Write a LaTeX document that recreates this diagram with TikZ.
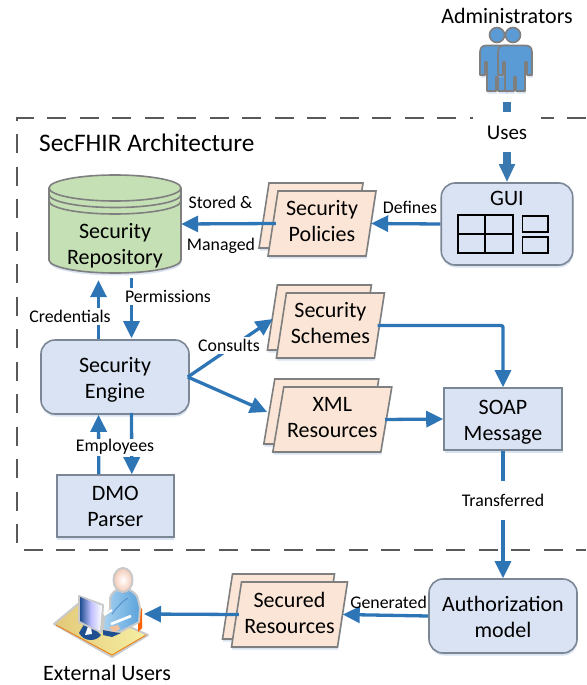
\documentclass[tikz,border=0pt]{standalone}
\usepackage{fontspec}
\setmainfont{Carlito}
\usetikzlibrary{arrows.meta,shadows,calc}
\definecolor{flow}{HTML}{2E75B6}
\definecolor{flowdark}{HTML}{3A78B0}
\definecolor{edgegray}{HTML}{7F7F7F}
\definecolor{bluegray}{HTML}{7C8796}
\definecolor{boxblue}{HTML}{DAE3F3}
\definecolor{peach}{HTML}{FBE5D6}
\definecolor{leaf}{HTML}{C5E0B4}
\definecolor{people}{HTML}{5B9BD5}
\definecolor{shadowblue}{HTML}{9DB7DC}
\definecolor{desktan}{HTML}{E3C878}
\definecolor{deskpale}{HTML}{F6F0A4}
\definecolor{glow}{HTML}{C9C9C9}
\definecolor{navy}{HTML}{1F4E91}
\definecolor{shirt}{HTML}{A9D2F0}
\definecolor{shirtdark}{HTML}{5BA3DC}
\definecolor{skin}{HTML}{F3C9B5}
\tikzset{
  softshadow/.style={drop shadow={shadow xshift=0.5pt,shadow yshift=-2.5pt,fill=shadowblue,opacity=.4}},
  bigtext/.style={font=\fontsize{22}{26}\selectfont,align=center,text=black,inner sep=0pt},
  smalltext/.style={font=\fontsize{17.8}{20}\selectfont,text=black},
  boxbase/.style={draw=bluegray,line width=1.6pt,fill=boxblue,inner sep=0pt,softshadow},
  roundbox/.style={boxbase,rounded corners=14pt},
  squarebox/.style={boxbase},
  docface/.style={draw=edgegray,line width=1.6pt,fill=peach,line join=miter},
  flowline/.style={draw=flow,line width=3.3pt},
  flowarrow/.style={flowline,-{Triangle[length=17pt,width=16pt]}},
  usesline/.style={draw=flowdark,line width=8pt},
  gap/.style={fill=white,inner sep=0pt,smalltext},
  grid/.style={draw=black,line width=1.6pt},
  personstyle/.style={draw=edgegray,line width=1.6pt,fill=people,line join=round}
}
\newcommand{\docstack}[7]{% name, cx, cy, width, slant, text y, text
  \path[docface,softshadow]
    ({#2-#4/2+#5-9},{#3-40.5}) -- ({#2+#4/2+#5-13},{#3-40.5}) --
    ({#2+#4/2-#5-13},{#3+24.5}) -- ({#2-#4/2-#5-9},{#3+24.5}) -- cycle;
  \path[docface,softshadow]
    ({#2-#4/2+#5},{#3-32.5}) -- ({#2+#4/2+#5},{#3-32.5}) --
    ({#2+#4/2-#5},{#3+32.5}) -- ({#2-#4/2-#5},{#3+32.5}) -- cycle;
  \node[inner sep=0pt,minimum width=#4 pt,minimum height=65pt] (#1) at (#2,#3) {};
  \node[bigtext] (#1text) at (#2,#6) {#7};
}
\newcommand{\personicon}[1]{% cx
  \path[personstyle,softshadow]
    ({#1-11},45.5) .. controls ({#1-15},45.5) and ({#1-17},48) .. ({#1-17},52)
    -- ({#1-17},75) -- ({#1-12},75) -- ({#1-12},62) -- ({#1-10},62) -- ({#1-10},91)
    -- ({#1-1},91) -- ({#1-1},77) -- ({#1+1},77) -- ({#1+1},91) -- ({#1+10},91)
    -- ({#1+10},62) -- ({#1+12},62) -- ({#1+12},75) -- ({#1+17},75) -- ({#1+17},52)
    .. controls ({#1+17},48) and ({#1+15},45.5) .. ({#1+11},45.5) -- cycle;
}
\begin{document}
\begin{tikzpicture}[x=1pt,y=-1pt]
\useasboundingbox (0,0) rectangle (586,685);

% dashed frame
\coordinate (frameA) at (586,118);
\coordinate (frameB) at (17,118);
\coordinate (frameC) at (17,550);
\coordinate (frameD) at (586,550);
\draw[draw=black!65,line width=2pt,dash pattern=on 19pt off 13.5pt]
  (frameA) -- (frameB) -- (frameC) -- (frameD);
\node[anchor=west,inner sep=0pt,font=\fontsize{25.3}{28}\selectfont] (title) at (39,143) {SecFHIR Architecture};

% administrators
\personicon{497}
\path[personstyle] (497,35) circle (7.5);
\personicon{515}
\path[personstyle] (513,35) circle (7.5);
\node[bigtext] (admins) at (507,16) {Administrators};
\coordinate (adminfoot) at (507,102);

% repository
\path[draw=edgegray,line width=1.6pt,fill=leaf,softshadow]
  (49,188) -- (49,260) arc[start angle=180,end angle=0,x radius=66,y radius=13]
  -- (181,188) arc[start angle=0,end angle=-180,x radius=66,y radius=13] -- cycle;
\draw[edgegray,line width=1.6pt] (49,188) arc[start angle=180,end angle=0,x radius=66,y radius=13];
\draw[edgegray,line width=1.6pt] (49,194.5) arc[start angle=180,end angle=0,x radius=66,y radius=13];
\draw[edgegray,line width=1.6pt] (49,201) arc[start angle=180,end angle=0,x radius=66,y radius=13];
\node[inner sep=0pt,minimum width=132pt,minimum height=98pt] (repo) at (115,224) {};
\node[bigtext] (repotext) at (115,246) {Security\\Repository};

% documents
\docstack{policies}{322}{223.5}{98}{5}{221.5}{Security\\Policies}
\docstack{schemes}{330.4}{325.5}{98}{5}{323.5}{Security\\Schemes}
\docstack{xml}{332.3}{419.5}{108}{5.5}{418}{XML\\Resources}
\docstack{secured}{289.5}{614.5}{106}{5}{612.5}{Secured\\Resources}

% boxes
\node[roundbox,minimum width=131.5pt,minimum height=82pt] (gui) at (507,224) {};
\node[bigtext] (guitext) at (507,198) {GUI};
\draw[grid] (458,215) rectangle (513,253) (485,215) -- (485,253) (458,234) -- (513,234);
\draw[grid] (522.5,216) rectangle (548,232) (522.5,237) rectangle (548,253);
\node[roundbox,minimum width=148pt,minimum height=74pt] (engine) at (115,377) {};
\node[bigtext] (enginetext) at (115,380) {Security\\Engine};
\node[squarebox,minimum width=117pt,minimum height=62pt] (dmo) at (115.3,506) {};
\node[bigtext] (dmotext) at (115.3,506.5) {DMO\\Parser};
\node[squarebox,minimum width=118pt,minimum height=62pt] (soap) at (503,419) {};
\node[bigtext] (soaptext) at (503,422) {SOAP\\Message};
\node[roundbox,minimum width=148pt,minimum height=74pt] (auth) at (503,616) {};
\node[bigtext] (authtext) at (503,617) {Authorization\\model};

% external users icon
\shade[left color=desktan,right color=deskpale,draw=glow,line width=2pt,line join=round]
  (54,624) -- (78,604) -- (148,635) -- (112,657) -- cycle;
\draw[orange!70!brown,line width=.9pt] (56,625) -- (112,655) -- (146,635);
\fill[orange!75!red] (138,606) -- (142,609) -- (142,628) -- (138,632) -- cycle;
\path[draw=glow,line width=2pt,line join=round,left color=shirt,right color=shirtdark]
  (110,598) .. controls (112,592) and (116,590) .. (118,590) -- (128,589)
  .. controls (134,592) and (137,595) .. (138,599) -- (140,608) -- (139,622) -- (120,632) -- (103,630) -- (104,617) -- (110,610) -- cycle;
\draw[white,line width=2.6pt] (111,624) -- (131,616);
\draw[white,line width=2pt] (104,615) -- (112,610);
\draw[shirtdark!75!navy,line width=.8pt] (112,614) .. controls (118,606) and (124,600) .. (128,598);
\fill[red!70!orange] (118,589) -- (129,589) -- (124,593) -- cycle;
\shade[inner color=white,outer color=skin,draw=glow,line width=2pt]
  (123,580) ellipse (9.5 and 12);
\fill[skin!85!orange] (109,627) -- (118,625) -- (120,629) -- (114,632) -- cycle;
\fill[navy] (103,630) -- (113,632) -- (121,633) -- (112,637) -- (103,635) -- cycle;
\fill[navy] (79,633) .. controls (83,626) and (86,620) .. (90,618)
  -- (95,622) -- (97,631) -- (101,635) .. controls (96,642) and (84,642) .. (79,633) -- cycle;
\fill[white] (85,635) -- (90,621) -- (92,634) -- cycle;
\path[draw=glow,line width=2pt,line join=round] (79,596) -- (103,605) -- (101,632) -- (79,622) -- cycle;
\shade[left color=navy,right color=white,middle color=blue!25]
  (80,597) -- (102,606) -- (100,631) -- (80,621) -- cycle;
\coordinate (extuser) at (144,614);
\node[bigtext] (exttext) at (107,673) {External Users};

% connectors
\coordinate (usestail) at (507,151);
\draw[usesline] (adminfoot) -- (507,112);
\draw[usesline,-{Triangle[length=18pt,width=15pt]}] (usestail) -- (gui.north);
\draw[flowarrow] ([xshift=3pt]policies.west) -- (repo.east);
\draw[flowarrow] (gui.west) -- (policies.east);
\draw[flowarrow] ([xshift=-16.5pt]engine.north) -- ([xshift=-16.5pt,yshift=-7pt]repo.south);
\draw[flowarrow] ([xshift=16.5pt,yshift=-5pt]repo.south) -- ([xshift=16.5pt,yshift=1pt]engine.north);
\draw[flowarrow] ([xshift=-16.5pt]dmo.north) -- ([xshift=-16.5pt]engine.south);
\draw[flowarrow] ([xshift=16.5pt,yshift=2pt]engine.south) -- ([xshift=16.5pt]dmo.north);
\draw[flowarrow] ([xshift=-2pt]engine.east) -- ([xshift=-8.4pt,yshift=6.5pt]schemes.west);
\draw[flowarrow] ([xshift=-2pt]engine.east) -- ([xshift=-11pt,yshift=7.5pt]xml.west);
\draw[flowarrow,rounded corners=2pt] ([xshift=-2pt]schemes.east) -- (soap.north |- schemes.east) -- (soap.north);
\draw[flowarrow] ([xshift=-1.5pt]xml.east) -- (soap.west);
\draw[flowarrow] (soap.south) -- (auth.north);
\draw[flowarrow] (auth.west) -- (secured.east);
\draw[flowarrow] ([xshift=2.5pt]secured.west) -- (extuser);

% labels
\node[gap,minimum width=68pt,minimum height=38pt,font=\fontsize{21}{24}\selectfont] (uses) at (507,132.5) {Uses};
\node[smalltext,inner sep=0pt] (lbstored) at (220.5,202) {Stored \&};
\node[smalltext,inner sep=0pt] (lbmanaged) at (221,246) {Managed};
\node[smalltext,inner sep=0pt] (lbdefines) at (410,207) {Defines};
\node[gap,minimum width=84pt,minimum height=17pt] (lbcred) at (70,316) {Credentials};
\node[gap,minimum width=89pt,minimum height=17pt] (lbperm) at (168,296) {Permissions};
\node[gap,minimum width=65pt,minimum height=17pt] (lbcons) at (229,345) {Consults};
\node[gap,minimum width=82pt,minimum height=17pt] (lbemp) at (115,447) {Employees};
\node[gap,minimum width=87pt,minimum height=39pt] (lbtrans) at (503,500) {Transferred};
\node[smalltext,inner sep=0pt] (lbgen) at (388.6,602) {Generated};
\end{tikzpicture}
\end{document}
